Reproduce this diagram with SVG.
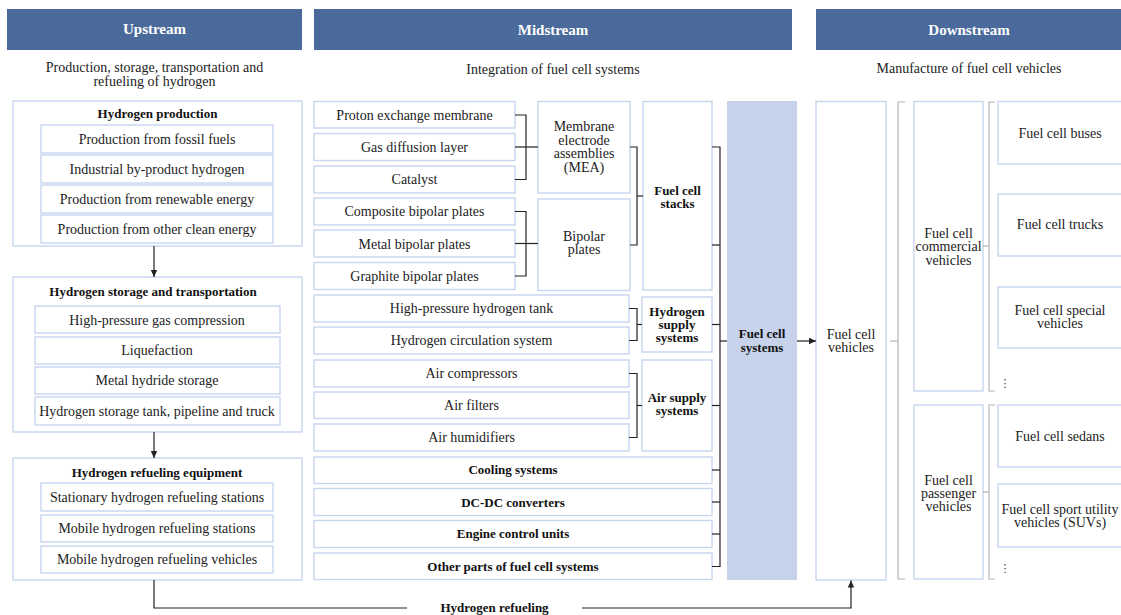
<svg xmlns="http://www.w3.org/2000/svg" width="1121" height="615" viewBox="0 0 1121 615">
  <defs>
    <style>
      .hdr { fill: #4a6a9b; }
      .hdrt { fill: #ffffff; font-family: "Liberation Serif", "Times New Roman", serif; font-weight: bold; font-size: 15px; text-anchor: middle; }
      .sub { fill: #222; font-family: "Liberation Serif", "Times New Roman", serif; font-size: 14px; text-anchor: middle; }
      .box { fill: #ffffff; stroke: #c7d5ef; stroke-width: 1.4; }
      .t { fill: #222; font-family: "Liberation Serif", "Times New Roman", serif; font-size: 14px; text-anchor: middle; }
      .b { fill: #111; font-family: "Liberation Serif", "Times New Roman", serif; font-size: 13px; font-weight: bold; text-anchor: middle; }
      .ln { fill: none; stroke: #222; stroke-width: 1.2; }
      .gl { fill: none; stroke: #b4b4b4; stroke-width: 1.2; }
      .sys { fill: #c7d3ea; }
      .dots { fill: #333; font-family: "DejaVu Sans", sans-serif; font-size: 11px; text-anchor: middle; }
    </style>
    <marker id="arr" markerUnits="userSpaceOnUse" markerWidth="8" markerHeight="8" refX="7" refY="4" orient="auto">
      <path d="M0,0.8 L7,4 L0,7.2 Z" fill="#222"/>
    </marker>
  </defs>

  <!-- column headers -->
  <g id="headers">
    <rect class="hdr" x="7" y="9" width="295" height="41"/>
    <text class="hdrt" x="154.5" y="34">Upstream</text>
    <rect class="hdr" x="314" y="9" width="478" height="41"/>
    <text class="hdrt" x="553" y="35">Midstream</text>
    <rect class="hdr" x="816" y="9" width="305" height="41"/>
    <text class="hdrt" x="969" y="35">Downstream</text>
    <text class="sub" x="154.5" y="71.5">Production, storage, transportation and</text>
    <text class="sub" x="154.5" y="85.5">refueling of hydrogen</text>
    <text class="sub" x="553" y="73.5">Integration of fuel cell systems</text>
    <text class="sub" x="969" y="73">Manufacture of fuel cell vehicles</text>
  </g>

  <!-- upstream -->
  <g id="hydrogen-production">
    <rect class="box" x="13" y="101" width="289" height="145"/>
    <text class="b" x="157.5" y="117.5">Hydrogen production</text>
    <rect class="box" x="41" y="125" width="232" height="28"/>
    <text class="t" x="157" y="144">Production from fossil fuels</text>
    <rect class="box" x="41" y="155" width="232" height="28"/>
    <text class="t" x="157" y="174">Industrial by-product hydrogen</text>
    <rect class="box" x="41" y="185" width="232" height="28"/>
    <text class="t" x="157" y="204">Production from renewable energy</text>
    <rect class="box" x="41" y="215" width="232" height="28"/>
    <text class="t" x="157" y="234">Production from other clean energy</text>
  </g>

  <g id="hydrogen-storage">
    <rect class="box" x="13" y="277" width="289" height="155"/>
    <text class="b" x="153" y="295.5">Hydrogen storage and transportation</text>
    <rect class="box" x="35" y="306" width="245" height="27"/>
    <text class="t" x="157" y="324.5">High-pressure gas compression</text>
    <rect class="box" x="35" y="337" width="245" height="27"/>
    <text class="t" x="157" y="355">Liquefaction</text>
    <rect class="box" x="35" y="367" width="245" height="27"/>
    <text class="t" x="157" y="385">Metal hydride storage</text>
    <rect class="box" x="35" y="397" width="245" height="28"/>
    <text class="t" x="157" y="415.5">Hydrogen storage tank, pipeline and truck</text>
  </g>

  <g id="hydrogen-refueling-equipment">
    <rect class="box" x="13" y="458" width="289" height="122"/>
    <text class="b" x="157" y="476.5">Hydrogen refueling equipment</text>
    <rect class="box" x="41" y="483" width="232" height="28"/>
    <text class="t" x="157" y="501.5">Stationary hydrogen refueling stations</text>
    <rect class="box" x="41" y="515" width="232" height="27"/>
    <text class="t" x="157" y="533">Mobile hydrogen refueling stations</text>
    <rect class="box" x="41" y="546" width="232" height="27"/>
    <text class="t" x="157" y="564">Mobile hydrogen refueling vehicles</text>
  </g>

  <!-- midstream components -->
  <g id="mea-parts">
    <rect class="box" x="314" y="101.5" width="201" height="26.5"/>
    <text class="t" x="414.5" y="119.5">Proton exchange membrane</text>
    <rect class="box" x="314" y="133.5" width="201" height="27"/>
    <text class="t" x="414.5" y="151.5">Gas diffusion layer</text>
    <rect class="box" x="314" y="166" width="201" height="27"/>
    <text class="t" x="414.5" y="184">Catalyst</text>
  </g>
  <g id="plate-parts">
    <rect class="box" x="314" y="198" width="201" height="27"/>
    <text class="t" x="414.5" y="216">Composite bipolar plates</text>
    <rect class="box" x="314" y="230" width="201" height="27"/>
    <text class="t" x="414.5" y="248.5">Metal bipolar plates</text>
    <rect class="box" x="314" y="262.5" width="201" height="27"/>
    <text class="t" x="414.5" y="280.5">Graphite bipolar plates</text>
  </g>
  <g id="mea">
    <rect class="box" x="538" y="101.5" width="92" height="91.5"/>
    <text class="t" x="584" y="131">Membrane</text>
    <text class="t" x="584" y="144.5">electrode</text>
    <text class="t" x="584" y="158">assemblies</text>
    <text class="t" x="584" y="171.5">(MEA)</text>
  </g>
  <g id="bipolar-plates">
    <rect class="box" x="538" y="199" width="92" height="91.5"/>
    <text class="t" x="584" y="240.5">Bipolar</text>
    <text class="t" x="584" y="253.5">plates</text>
  </g>
  <g id="fuel-cell-stacks">
    <rect class="box" x="643" y="101.5" width="69" height="188.5"/>
    <text class="b" x="677.5" y="194.5">Fuel cell</text>
    <text class="b" x="677.5" y="207.5">stacks</text>
  </g>

  <g id="hydrogen-supply-parts">
    <rect class="box" x="314" y="295" width="315" height="27"/>
    <text class="t" x="471.5" y="313">High-pressure hydrogen tank</text>
    <rect class="box" x="314" y="327" width="315" height="27"/>
    <text class="t" x="471.5" y="345">Hydrogen circulation system</text>
  </g>
  <g id="hydrogen-supply">
    <rect class="box" x="642" y="297" width="70" height="55"/>
    <text class="b" x="677" y="316">Hydrogen</text>
    <text class="b" x="677" y="329">supply</text>
    <text class="b" x="677" y="342">systems</text>
  </g>
  <g id="air-supply-parts">
    <rect class="box" x="314" y="360" width="315" height="27"/>
    <text class="t" x="471.5" y="378">Air compressors</text>
    <rect class="box" x="314" y="392" width="315" height="26.5"/>
    <text class="t" x="471.5" y="410">Air filters</text>
    <rect class="box" x="314" y="424" width="315" height="27"/>
    <text class="t" x="471.5" y="442">Air humidifiers</text>
  </g>
  <g id="air-supply">
    <rect class="box" x="642" y="360" width="70" height="91"/>
    <text class="b" x="677" y="402">Air supply</text>
    <text class="b" x="677" y="415">systems</text>
  </g>

  <g id="cooling-systems">
    <rect class="box" x="314" y="457" width="398" height="26.5"/>
    <text class="b" x="513" y="474">Cooling systems</text>
  </g>
  <g id="dc-dc-converters">
    <rect class="box" x="314" y="488.5" width="398" height="27"/>
    <text class="b" x="513" y="506.5">DC-DC converters</text>
  </g>
  <g id="engine-control-units">
    <rect class="box" x="314" y="520.5" width="398" height="27"/>
    <text class="b" x="513" y="538">Engine control units</text>
  </g>
  <g id="other-parts">
    <rect class="box" x="314" y="553" width="398" height="26.5"/>
    <text class="b" x="513" y="570.5">Other parts of fuel cell systems</text>
  </g>

  <g id="fuel-cell-systems">
    <rect class="sys" x="727" y="101" width="70" height="479"/>
    <text class="b" x="762" y="338">Fuel cell</text>
    <text class="b" x="762" y="351.5">systems</text>
  </g>

  <!-- downstream -->
  <g id="fuel-cell-vehicles">
    <rect class="box" x="816" y="101.5" width="70" height="478.5"/>
    <text class="t" x="851" y="338.5">Fuel cell</text>
    <text class="t" x="851" y="351.5">vehicles</text>
  </g>
  <g id="commercial-vehicles">
    <rect class="box" x="914" y="101.5" width="69" height="289.5"/>
    <text class="t" x="948.5" y="237.5">Fuel cell</text>
    <text class="t" x="948.5" y="251">commercial</text>
    <text class="t" x="948.5" y="265">vehicles</text>
  </g>
  <g id="passenger-vehicles">
    <rect class="box" x="914" y="405" width="69" height="174"/>
    <text class="t" x="948.5" y="484.5">Fuel cell</text>
    <text class="t" x="948.5" y="497.5">passenger</text>
    <text class="t" x="948.5" y="511">vehicles</text>
  </g>
  <g id="buses">
    <rect class="box" x="998" y="101.5" width="130" height="62.5"/>
    <text class="t" x="1060" y="137.5">Fuel cell buses</text>
  </g>
  <g id="trucks">
    <rect class="box" x="998" y="194" width="130" height="62"/>
    <text class="t" x="1060" y="229">Fuel cell trucks</text>
  </g>
  <g id="special-vehicles">
    <rect class="box" x="998" y="287" width="130" height="61"/>
    <text class="t" x="1060" y="315">Fuel cell special</text>
    <text class="t" x="1060" y="328">vehicles</text>
  </g>
  <g id="sedans">
    <rect class="box" x="998" y="405" width="130" height="62"/>
    <text class="t" x="1060" y="440.5">Fuel cell sedans</text>
  </g>
  <g id="suvs">
    <rect class="box" x="998" y="484" width="130" height="63"/>
    <text class="t" x="1060" y="513.5">Fuel cell sport utility</text>
    <text class="t" x="1060" y="526.5">vehicles (SUVs)</text>
  </g>
  <g id="more">
    <text class="dots" x="1005" y="387">⋮</text>
    <text class="dots" x="1005" y="572">⋮</text>
  </g>

  <!-- connectors -->
  <g id="connectors">
    <!-- upstream flow -->
    <line class="ln" x1="154" y1="246" x2="154" y2="277" marker-end="url(#arr)"/>
    <line class="ln" x1="154" y1="432" x2="154" y2="458" marker-end="url(#arr)"/>
    <!-- hydrogen refueling loop to vehicles -->
    <polyline class="ln" points="154,580 154,608 407,608"/>
    <polyline class="ln" points="582,608 851,608 851,580.5" marker-end="url(#arr)"/>
    <text class="b" x="494.5" y="611.5">Hydrogen refueling</text>

    <!-- MEA bracket -->
    <polyline class="ln" points="515,115 526,115 526,179.5 515,179.5"/>
    <line class="ln" x1="515" y1="147" x2="538" y2="147"/>
    <!-- bipolar plate bracket -->
    <polyline class="ln" points="515,211.5 526,211.5 526,276 515,276"/>
    <line class="ln" x1="515" y1="243.5" x2="538" y2="243.5"/>
    <!-- stack bracket -->
    <polyline class="ln" points="630,147 637,147 637,245 630,245"/>
    <line class="ln" x1="637" y1="196" x2="643" y2="196"/>
    <!-- hydrogen supply bracket -->
    <polyline class="ln" points="629,308.5 637,308.5 637,340.5 629,340.5"/>
    <line class="ln" x1="637" y1="324.5" x2="642" y2="324.5"/>
    <!-- air supply bracket -->
    <polyline class="ln" points="629,373.5 637,373.5 637,437.5 629,437.5"/>
    <line class="ln" x1="637" y1="405.5" x2="642" y2="405.5"/>

    <!-- system bus -->
    <polyline class="ln" points="712,147 720,147 720,566.5 712,566.5"/>
    <line class="ln" x1="712" y1="245" x2="720" y2="245"/>
    <line class="ln" x1="712" y1="324.5" x2="720" y2="324.5"/>
    <line class="ln" x1="712" y1="405.5" x2="720" y2="405.5"/>
    <line class="ln" x1="712" y1="470" x2="720" y2="470"/>
    <line class="ln" x1="712" y1="502" x2="720" y2="502"/>
    <line class="ln" x1="712" y1="534" x2="720" y2="534"/>
    <line class="ln" x1="720" y1="341" x2="727" y2="341"/>
    <line class="ln" x1="797" y1="341" x2="816" y2="341" marker-end="url(#arr)"/>

    <!-- vehicle brackets -->
    <polyline class="gl" points="905,102 898,102 898,579 905,579"/>
    <line class="gl" x1="890" y1="341" x2="898" y2="341"/>
    <polyline class="gl" points="995,102 989,102 989,391 995,391"/>
    <line class="gl" x1="983" y1="246" x2="989" y2="246"/>
    <polyline class="gl" points="995,405 989,405 989,579 995,579"/>
    <line class="gl" x1="983" y1="492" x2="989" y2="492"/>
  </g>
</svg>
